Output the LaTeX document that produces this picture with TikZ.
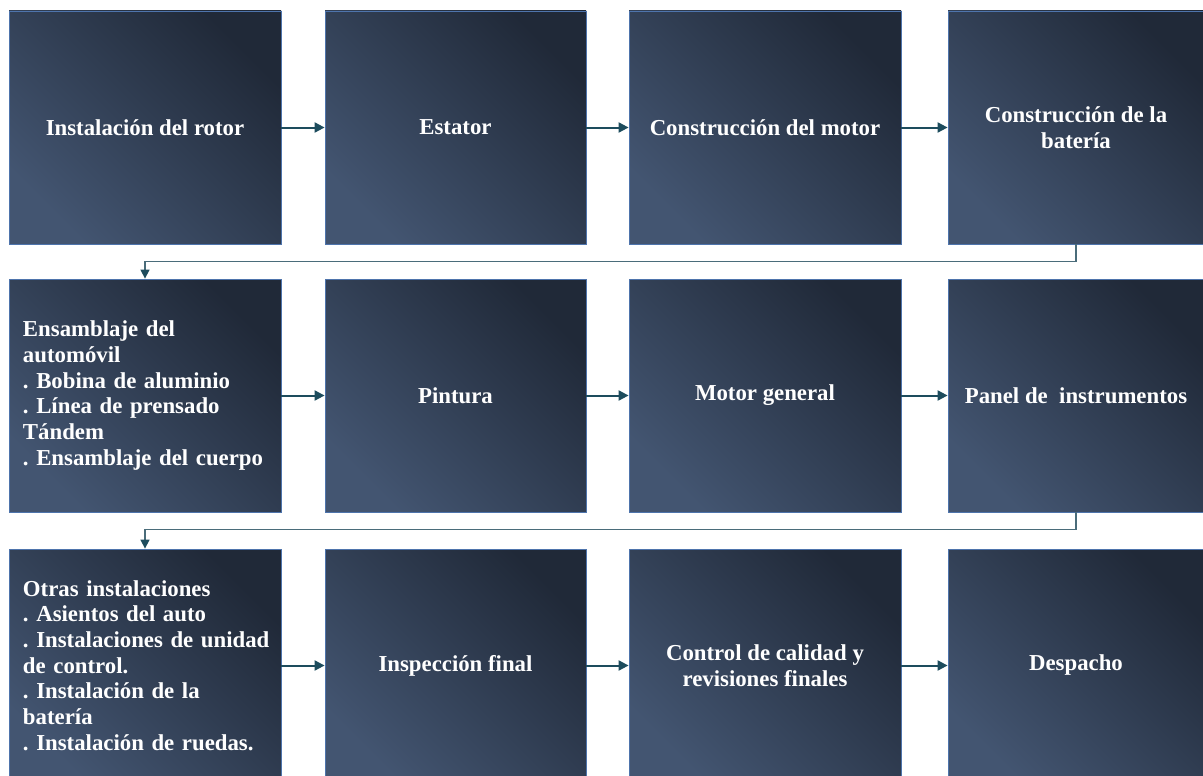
\documentclass[tikz,border=0pt]{standalone}
\usepackage{fontspec}
\setmainfont{Liberation Serif}
\usetikzlibrary{arrows.meta}
\definecolor{boxdark}{HTML}{202938}
\definecolor{boxlight}{HTML}{435571}
\definecolor{boxedge}{HTML}{4E74AC}
\definecolor{arrowcol}{HTML}{1D4C5D}
\definecolor{linkcol}{HTML}{4A6C7A}
\frenchspacing
\begin{document}
\begin{tikzpicture}[x=1pt,y=-1pt,
  stage/.style={draw=boxedge, line width=0.8pt, top color=boxdark, bottom color=boxlight, shading angle=-45,
    text=white, font=\bfseries\fontsize{22.8}{25.7}\selectfont\frenchspacing, align=center, inner sep=0pt,
    minimum height=233pt},
  wA/.style={minimum width=272pt},
  wB/.style={minimum width=261pt},
  wC/.style={minimum width=256pt},
  listbox/.style={text width=244pt, align=left},
  flow/.style={draw=arrowcol, line width=2pt, -{Triangle[length=10pt,width=10pt]}},
  link/.style={draw=linkcol, line width=1.5pt, -{Triangle[length=9pt,width=9pt,color=arrowcol]}}
]
\useasboundingbox (0,0) rectangle (1203,776);
% row 1
\node[stage,wA] (b1) at (145,127.5) {Instalación del rotor};
\node[stage,wB] (b2) at (455.5,127.5) {Estator};
\node[stage,wA] (b3) at (765,127.5) {Construcción del motor};
\node[stage,wC] (b4) at (1076,127.5) {Construcción de la\\batería};
% row 2
\node[stage,wA,listbox] (b5) at (145,395.5) {Ensamblaje del\\automóvil\\. Bobina de aluminio\\. Línea de prensado\\Tándem\\. Ensamblaje del cuerpo};
\node[stage,wB] (b6) at (455.5,395.5) {Pintura};
\node[stage,wA] (b7) at (765,395.5) {Motor general};
\node[stage,wC] (b8) at (1076,395.5) {Panel de~~instrumentos};
% row 3
\node[stage,wA,listbox] (b9) at (145,665.5) {Otras instalaciones\\. Asientos del auto\\\mbox{. Instalaciones de unidad}\\de control.\\. Instalación de la\\batería\\. Instalación de ruedas.};
\node[stage,wB] (b10) at (455.5,665.5) {Inspección final};
\node[stage,wA] (b11) at (765,665.5) {Control de calidad y\\revisiones finales};
\node[stage,wC] (b12) at (1076,665.5) {Despacho};
% arrows
\draw[flow] (b1.east) -- (b2.west);
\draw[flow] (b2.east) -- (b3.west);
\draw[flow] (b3.east) -- (b4.west);
\draw[flow] (b5.east) -- (b6.west);
\draw[flow] (b6.east) -- (b7.west);
\draw[flow] (b7.east) -- (b8.west);
\draw[flow] (b9.east) -- (b10.west);
\draw[flow] (b10.east) -- (b11.west);
\draw[flow] (b11.east) -- (b12.west);
\draw[link] (b4.south) -- ++(0,17) -| (b5.north);
\draw[link] (b8.south) -- ++(0,17) -| (b9.north);
\end{tikzpicture}
\end{document}
